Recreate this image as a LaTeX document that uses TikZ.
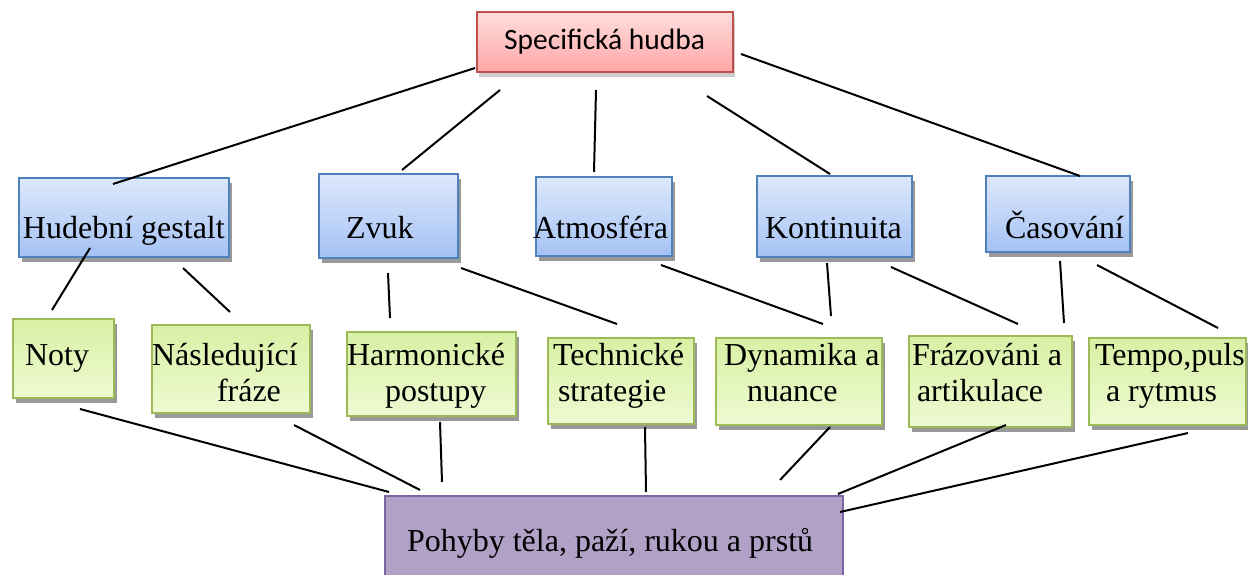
\documentclass[tikz,border=0pt]{standalone}
\usepackage{fontspec}
\setmainfont{Liberation Serif}
\newfontfamily\calibri{Carlito}
\usetikzlibrary{calc,shadows}

\definecolor{redTop}{HTML}{FFDEDE}
\definecolor{redBot}{HTML}{FFA6A6}
\definecolor{redLine}{HTML}{C0504D}
\definecolor{blueTop}{HTML}{DDE8FB}
\definecolor{blueBot}{HTML}{A4C2F4}
\definecolor{blueLine}{HTML}{4F81BD}
\definecolor{greenTop}{HTML}{D8F0A4}
\definecolor{greenBot}{HTML}{EEFAD2}
\definecolor{greenLine}{HTML}{9BBB59}
\definecolor{purpleFill}{HTML}{B2A1C7}
\definecolor{purpleLine}{HTML}{8064A2}

\tikzset{
  box/.style={anchor=north west, inner sep=0pt, outer sep=0pt, rectangle},
  shadowed/.style={drop shadow={shadow xshift=3pt, shadow yshift=-5pt, fill=black!40, opacity=1}},
  headbox/.style={box, draw=redLine, line width=1.5pt, top color=redTop, bottom color=redBot,
    drop shadow={shadow xshift=2pt, shadow yshift=-5pt, fill=black!25, opacity=0.8}},
  catbox/.style={box, draw=blueLine, line width=1.8pt, top color=blueTop, bottom color=blueBot, shadowed},
  leafbox/.style={box, draw=greenLine, line width=1.5pt, top color=greenTop, bottom color=greenBot, shadowed},
  basebox/.style={box, draw=purpleLine, line width=1.5pt, fill=purpleFill},
  lbl/.style={anchor=base west, inner sep=0pt, outer sep=0pt, font=\fontsize{32}{35}\selectfont},
  link/.style={line width=2pt, black},
}

\begin{document}
\begin{tikzpicture}[x=1pt, y=-1pt]
\useasboundingbox (0,0) rectangle (1248,575);
\clip (0,0) rectangle (1248,575);

% top level
\node[headbox, minimum width=256pt, minimum height=60pt] (sp) at (477,12) {};
\node[anchor=base west, inner sep=0pt, font=\calibri\fontsize{29.5}{34}\selectfont] (spt) at (504,50) {Specifická hudba};

% categories
\node[catbox, minimum width=210pt, minimum height=79pt] (hg) at (19,178) {};
\node[catbox, minimum width=139pt, minimum height=84pt] (zv) at (319,174) {};
\node[catbox, minimum width=136pt, minimum height=79pt] (at) at (536,177) {};
\node[catbox, minimum width=155pt, minimum height=81pt] (ko) at (757,176) {};
\node[catbox, minimum width=144pt, minimum height=76pt] (ca) at (986,176) {};

\node[lbl] (hgt) at (23,238) {Hudební gestalt};
\node[lbl] (zvt) at (346,238) {Zvuk};
\node[lbl] (att) at (533,238) {Atmosféra};
\node[lbl] (kot) at (765,238) {Kontinuita};
\node[lbl] (cat) at (1005,238) {Časování};

% leaves
\node[leafbox, minimum width=101pt, minimum height=79pt] (noty) at (13,319) {};
\node[leafbox, minimum width=158pt, minimum height=88pt] (nasl) at (152,325) {};
\node[leafbox, minimum width=169pt, minimum height=84pt] (harm) at (347,332) {};
\node[leafbox, minimum width=146pt, minimum height=86pt] (tech) at (548,338) {};
\node[leafbox, minimum width=166pt, minimum height=87pt] (dyn) at (716,338) {};
\node[leafbox, minimum width=163pt, minimum height=91pt] (fraz) at (909,336) {};
\node[leafbox, minimum width=157pt, minimum height=87pt] (tempo) at (1089,338) {};

\node[lbl] (notyt) at (25,365) {Noty};
\node[lbl] (naslt) at (152,365) {Následující};
\node[lbl] (naslu) at (217,401) {fráze};
\node[lbl] (harmt) at (347,365) {Harmonické};
\node[lbl] (harmu) at (385,401) {postupy};
\node[lbl] (techt) at (553,365) {Technické};
\node[lbl] (techu) at (558,401) {strategie};
\node[lbl] (dynt) at (724,365) {Dynamika a};
\node[lbl] (dynu) at (747,401) {nuance};
\node[lbl] (frazt) at (912,365) {Frázováni a};
\node[lbl] (frazu) at (917,401) {artikulace};
\node[lbl] (tempot) at (1095,365) {Tempo,puls};
\node[lbl] (tempou) at (1106,401) {a rytmus};

% base
\node[basebox, minimum width=458pt, minimum height=110pt] (base) at (385,496) {};
\node[lbl] (baset) at (407,551) {Pohyby těla, paží, rukou a prstů};

% connectors: top level to categories
\draw[link] ($(sp.south west)+(-2,-4)$) -- ($(hg.north west)+(94,6)$);
\draw[link] ($(sp.south west)+(23,18)$) -- ($(zv.north west)+(83,-4)$);
\draw[link] ($(sp.south west)+(119,18)$) -- ($(at.north west)+(58,-5)$);
\draw[link] ($(sp.south west)+(230,24)$) -- ($(ko.north west)+(73,-2)$);
\draw[link] ($(sp.south east)+(8,-18)$) -- ($(ca.north west)+(94,0)$);

% categories to leaves
\draw[link] ($(hg.south west)+(71,-9)$) -- ($(noty.north west)+(39,-9)$);
\draw[link] ($(hg.south west)+(164,11)$) -- ($(nasl.north west)+(78,-13)$);
\draw[link] ($(zv.south west)+(69,15)$) -- ($(harm.north west)+(43,-14)$);
\draw[link] ($(zv.south west)+(142,10)$) -- ($(tech.north west)+(69,-14)$);
\draw[link] ($(at.south west)+(125,9)$) -- ($(dyn.north west)+(107,-14)$);
\draw[link] ($(ko.south west)+(70,6)$) -- ($(dyn.north west)+(115,-22)$);
\draw[link] ($(ko.south west)+(134,10)$) -- ($(fraz.north west)+(109,-12)$);
\draw[link] ($(ca.south west)+(74,9)$) -- ($(fraz.north west)+(155,-13)$);
\draw[link] ($(ca.south west)+(111,13)$) -- ($(tempo.north west)+(129,-10)$);

% leaves to base
\draw[link] ($(noty.south west)+(67,11)$) -- ($(base.north west)+(4,-4)$);
\draw[link] ($(nasl.south west)+(142,12)$) -- ($(base.north west)+(35,-6)$);
\draw[link] ($(harm.south west)+(93,6)$) -- ($(base.north west)+(57,-14)$);
\draw[link] ($(tech.south west)+(97,3)$) -- ($(base.north west)+(261,-4)$);
\draw[link] ($(dyn.south west)+(114,2)$) -- ($(base.north west)+(395,-16)$);
\draw[link] ($(fraz.south west)+(97,-2)$) -- ($(base.north east)+(-5,-2)$);
\draw[link] ($(tempo.south west)+(99,8)$) -- ($(base.north east)+(-3,16)$);
\end{tikzpicture}
\end{document}
